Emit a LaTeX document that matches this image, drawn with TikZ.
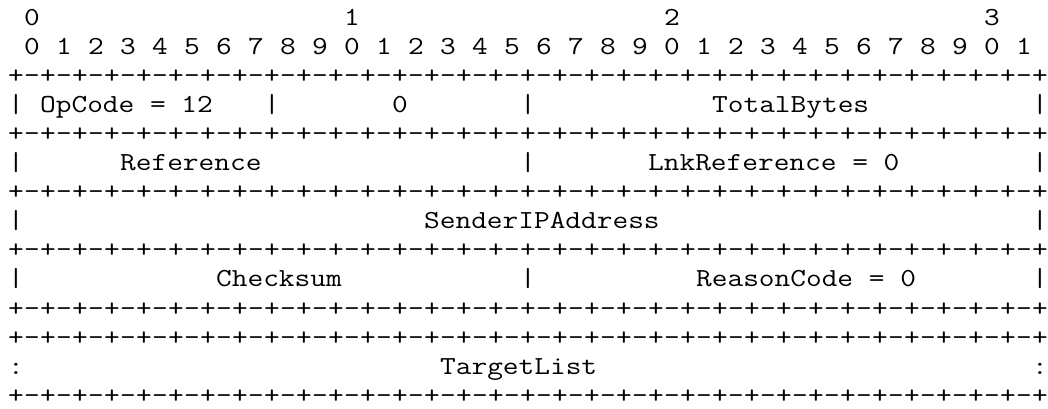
\documentclass[tikz,border=0pt]{standalone}
\usepackage{graphicx}
\newcommand\mono[1]{\scalebox{1.1722}[1]{#1}}
\begin{document}
\begin{tikzpicture}[x=16pt,y=-29.05pt,
    cell/.style={anchor=base,inner sep=0pt,font=\ttfamily\fontsize{26}{26}\selectfont},
    field/.style={cell,anchor=base west}]
\useasboundingbox (-1,-0.878) rectangle (64.5,13.167);
% bit numbers
\foreach \t/\c in {0/1,1/21,2/41,3/61}
    \node[cell] (tens-\t) at (\c,0) {\mono{\t}};
\foreach \i in {0,...,31}{
    \pgfmathtruncatemacro\d{mod(\i,10)}
    \node[cell] (bit-\i) at (1+2*\i,1) {\mono{\d}};
}
% border lines
\foreach \r in {2,4,6,8,10,11,13}{
    \foreach \c in {0,2,...,64}
        \node[cell] (plus-\r-\c) at (\c,\r) {\mono{+}};
    \foreach \c in {1,3,...,63}
        \node[cell] (dash-\r-\c) at (\c,\r) {\mono{-}};
}
% bars
\foreach \r/\c in {3/0,3/16,3/32,3/64,5/0,5/32,5/64,7/0,7/64,9/0,9/32,9/64}
    \node[cell] (bar-\r-\c) at (\c,\r) {\mono{|}};
\node[cell] (dotsl) at (0,12) {\mono{:}};
\node[cell] (dotsr) at (64,12) {\mono{:}};
% fields
\node[field] (opcode) at (1.5,3) {\mono{OpCode = 12}};
\node[cell] (zero) at (24,3) {\mono{0}};
\node[field] (totalbytes) at (43.5,3) {\mono{TotalBytes}};
\node[field] (reference) at (6.5,5) {\mono{Reference}};
\node[field] (lnkref) at (39.5,5) {\mono{LnkReference = 0}};
\node[field] (senderip) at (25.5,7) {\mono{SenderIPAddress}};
\node[field] (checksum) at (12.5,9) {\mono{Checksum}};
\node[field] (reason) at (42.5,9) {\mono{ReasonCode = 0}};
\node[field] (targets) at (26.5,12) {\mono{TargetList}};
\end{tikzpicture}
\end{document}
